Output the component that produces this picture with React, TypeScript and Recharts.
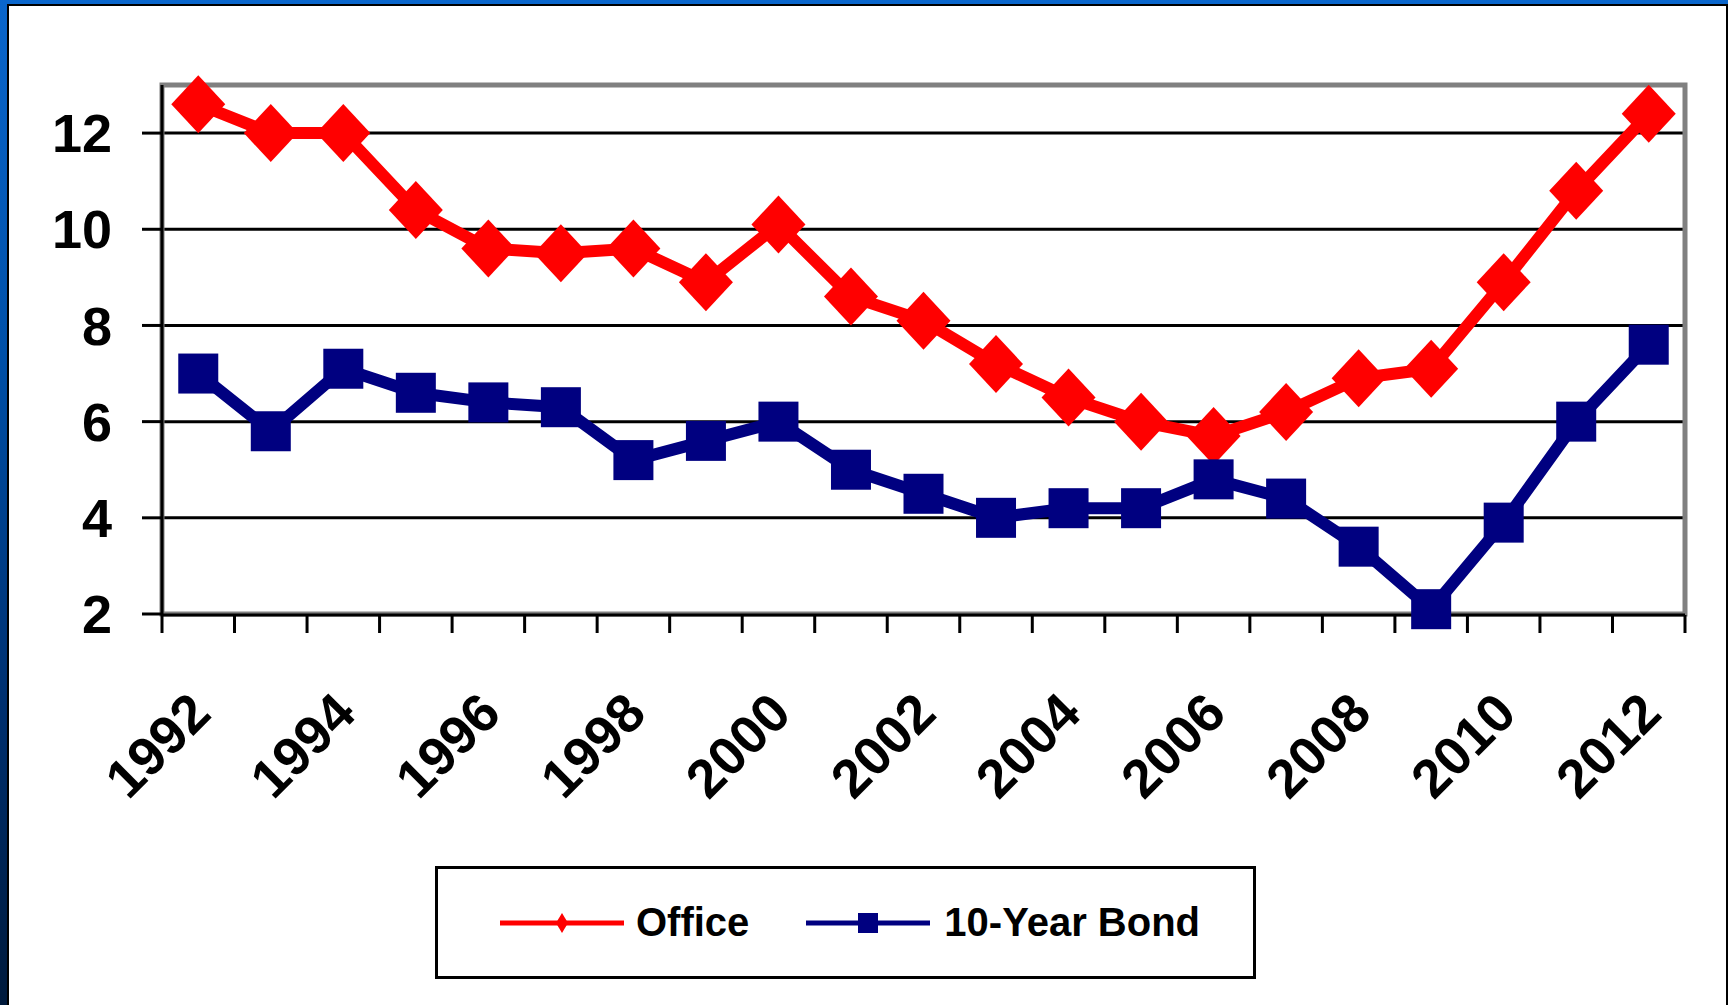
import React from 'react';
import { LineChart, Line, XAxis, YAxis, CartesianGrid, ReferenceArea, Legend } from 'recharts';

const YEARS = [
  1992, 1993, 1994, 1995, 1996, 1997, 1998, 1999, 2000, 2001, 2002,
  2003, 2004, 2005, 2006, 2007, 2008, 2009, 2010, 2011, 2012,
];
const OFFICE = [
  12.6, 12.0, 12.0, 10.4, 9.6, 9.5, 9.6, 8.9, 10.1, 8.6, 8.1,
  7.2, 6.5, 6.0, 5.7, 6.2, 6.9, 7.1, 8.9, 10.8, 12.4,
];
const BOND = [
  7.0, 5.8, 7.1, 6.6, 6.4, 6.3, 5.2, 5.6, 6.0, 5.0, 4.5,
  4.0, 4.2, 4.2, 4.8, 4.4, 3.4, 2.1, 3.9, 6.0, 7.6,
];
const Y_TICKS = [2, 4, 6, 8, 10, 12];
const LABEL_YEARS = [1992, 1994, 1996, 1998, 2000, 2002, 2004, 2006, 2008, 2010, 2012];

const RED = '#ff0000';
const NAVY = '#000080';
const FONT = '"Liberation Sans", Arial, sans-serif';

// tick marks sit between categories, like the original spreadsheet chart
const BOUNDARY_TICKS = [...YEARS.map(y => y - 0.5), YEARS[YEARS.length - 1] + 0.5];
const X_DOMAIN = [YEARS[0] - 0.5, YEARS[YEARS.length - 1] + 0.5];

const data = YEARS.map((year, i) => ({ year, office: OFFICE[i], bond: BOND[i] }));

function DiamondDot(props: any) {
  const { cx, cy } = props;
  if (cx == null || cy == null) return null;
  return (
    <polygon
      points={`${cx},${cy - 29} ${cx + 27},${cy} ${cx},${cy + 29} ${cx - 27},${cy}`}
      fill={RED}
    />
  );
}

function SquareDot(props: any) {
  const { cx, cy } = props;
  if (cx == null || cy == null) return null;
  return <rect x={cx - 20} y={cy - 20} width={40} height={40} fill={NAVY} />;
}

function EmptyTick() {
  return <g />;
}

function YearTick(props: any) {
  const { x, y, payload } = props;
  const ax = x + 15;
  const ay = y + 102;
  return (
    <text
      x={ax}
      y={ay}
      transform={`rotate(-45 ${ax} ${ay})`}
      textAnchor="end"
      fontSize={54}
      fontWeight="bold"
      fontFamily={FONT}
      fill="#000"
    >
      {payload.value}
    </text>
  );
}

function LegendBox() {
  return (
    <div
      style={{
        width: 821, height: 113, boxSizing: 'border-box', border: '3px solid #000',
        background: '#fff', display: 'flex', alignItems: 'center',
        fontFamily: FONT, fontWeight: 'bold', fontSize: 40, color: '#000',
      }}
    >
      <svg width={124} height={30} style={{ marginLeft: 62 }}>
        <line x1={0} y1={15} x2={124} y2={15} stroke={RED} strokeWidth={5} />
        <polygon points="62,5 68,15 62,25 56,15" fill={RED} />
      </svg>
      <span style={{ marginLeft: 12 }}>Office</span>
      <svg width={124} height={30} style={{ marginLeft: 57 }}>
        <line x1={0} y1={15} x2={124} y2={15} stroke={NAVY} strokeWidth={5} />
        <rect x={52} y={5} width={20} height={20} fill={NAVY} />
      </svg>
      <span style={{ marginLeft: 14 }}>10-Year Bond</span>
    </div>
  );
}

export default function App() {
  return (
    <div
      style={{
        position: 'fixed', left: 0, top: 0, width: 1728, height: 1005, overflow: 'hidden',
        background: 'linear-gradient(to bottom, #0a66cc 0%, #0050a8 35%, #003070 70%, #001a3c 100%)',
      }}
    >
      <div
        style={{
          position: 'absolute', left: 7, top: 4, width: 1721, height: 1010,
          background: '#fff', border: '2px solid #000', boxSizing: 'border-box',
        }}
      />
      <div style={{ position: 'absolute', left: 0, top: 0 }}>
        <LineChart
          width={1728}
          height={1005}
          data={data}
          margin={{ top: 85, right: 43, bottom: 389, left: 42 }}
        >
          <CartesianGrid vertical={false} stroke="#000" strokeWidth={3} />
          <ReferenceArea
            xAxisId="labels"
            x1={X_DOMAIN[0]}
            x2={X_DOMAIN[1]}
            y1={2}
            y2={13}
            fill="none"
            fillOpacity={0}
            stroke="#808080"
            strokeWidth={5}
          />
          <XAxis
            xAxisId="ticks"
            dataKey="year"
            type="number"
            domain={X_DOMAIN}
            ticks={BOUNDARY_TICKS}
            interval={0}
            height={1}
            tick={<EmptyTick />}
            tickSize={18}
            axisLine={{ stroke: '#000', strokeWidth: 3 }}
            tickLine={{ stroke: '#000', strokeWidth: 3 }}
          />
          <XAxis
            xAxisId="labels"
            dataKey="year"
            type="number"
            domain={X_DOMAIN}
            ticks={LABEL_YEARS}
            interval={0}
            height={1}
            axisLine={false}
            tickLine={false}
            tickSize={0}
            tickMargin={0}
            tick={<YearTick />}
          />
          <YAxis
            domain={[2, 13]}
            ticks={Y_TICKS}
            interval={0}
            width={120}
            tickSize={20}
            tickMargin={30}
            axisLine={{ stroke: '#000', strokeWidth: 3 }}
            tickLine={{ stroke: '#000', strokeWidth: 3 }}
            tick={{ fill: '#000', fontSize: 54, fontWeight: 'bold', fontFamily: FONT }}
          />
          <Line
            xAxisId="labels"
            type="linear"
            dataKey="office"
            name="Office"
            stroke={RED}
            strokeWidth={12}
            dot={<DiamondDot />}
            activeDot={false}
            isAnimationActive={false}
          />
          <Line
            xAxisId="labels"
            type="linear"
            dataKey="bond"
            name="10-Year Bond"
            stroke={NAVY}
            strokeWidth={12}
            dot={<SquareDot />}
            activeDot={false}
            isAnimationActive={false}
          />
          <Legend
            verticalAlign="middle"
            align="center"
            content={<LegendBox />}
            wrapperStyle={{ left: 435, top: 866, width: 821, height: 113 }}
          />
        </LineChart>
      </div>
    </div>
  );
}
